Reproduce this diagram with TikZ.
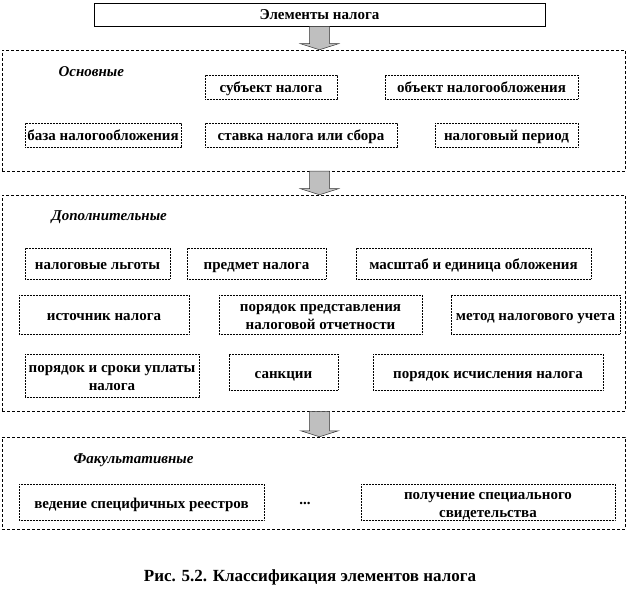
\documentclass[tikz,border=0pt]{standalone}
\usepackage{fontspec}
\setmainfont{Liberation Serif}
\usepackage{tikz}
\usetikzlibrary{positioning}

% толстая серая стрелка от точки #1 к острию #2
\newcommand{\fatarrow}[2]{%
  \filldraw[fill=black!25, draw=black!80, line width=0.5pt]
    ([xshift=-10pt]#1) -- ([xshift=-10pt,yshift=6pt]#2)
    -- ([xshift=-19pt,yshift=6pt]#2) -- (#2)
    -- ([xshift=19pt,yshift=6pt]#2) -- ([xshift=10pt,yshift=6pt]#2)
    -- ([xshift=10pt]#1) -- cycle;}

\begin{document}
\begin{tikzpicture}[
		x=1pt, y=-1pt,
		font=\fontsize{15}{18}\selectfont\bfseries,
		head/.style={
			draw,
			line width=0.6pt,
			minimum width=451pt,
			minimum height=23pt,
			text height=10pt,
			text depth=0pt,
			inner sep=0pt
		},
		frame/.style={
			draw,
			line width=0.5pt,
			dash pattern=on 3pt off 2pt,
			minimum width=623pt,
			inner sep=0pt
		},
		box/.style={
			draw,
			line width=0.7pt,
			dash pattern=on 0.8pt off 0.7pt,
			fill=white,
			align=center,
			minimum height=24pt,
			text height=12pt,
			text depth=0pt,
			inner sep=0pt
		},
		twoline/.style={
			text height=30pt
		},
		group/.style={
			anchor=west,
			font=\fontsize{15}{18}\selectfont\bfseries\itshape
		}
		]
		
		\useasboundingbox (0,0) rectangle (626,593);
		
		% Заголовок
		\node[head] (elem) at (319.5,14.5) {Элементы налога};
		
		% Рамки групп
		\node[frame, minimum height=121pt] (osn) at (313.5,110.5) {};
		\node[frame, minimum height=216pt] (dop) at (313.5,303) {};
		\node[frame, minimum height=92pt] (fak) at (313.5,483) {};
		
		% Стрелки
		\coordinate (s1) at (elem.south);
		\coordinate (t1) at (elem.south |- osn.north);
		\coordinate (s2) at (elem.south |- osn.south);
		\coordinate (t2) at (elem.south |- dop.north);
		\coordinate (s3) at (elem.south |- dop.south);
		\coordinate (t3) at (elem.south |- fak.north);
		\fatarrow{s1}{t1}
		\fatarrow{s2}{t2}
		\fatarrow{s3}{t3}
		
		% Основные
		\node[group] (osnt) at (55,72) {Основные};
		\node[box, minimum width=132pt] (subj) at (271,87) {субъект налога};
		\node[box, minimum width=193pt] (obj) at (481.5,87) {объект налогообложения};
		\node[box, minimum width=156pt] (baza) at (103,135) {база налогообложения};
		\node[box, minimum width=192pt] (stavka) at (301,135) {ставка налога или сбора};
		\node[box, minimum width=143pt] (period) at (506.5,135) {налоговый период};
		
		% Дополнительные
		\node[group] (dopt) at (48,217) {Дополнительные};
		\node[box, minimum width=145pt, minimum height=31pt] (lgoty) at (97.5,263.5) {налоговые льготы};
		\node[box, minimum width=139pt, minimum height=31pt] (predmet) at (256.5,263.5) {предмет налога};
		\node[box, minimum width=235pt, minimum height=31pt] (masht) at (473.5,263.5) {масштаб  и единица обложения};
		\node[box, minimum width=170pt, minimum height=39pt] (istoch) at (104,314.5) {источник налога};
		\node[box, twoline, minimum width=203pt, minimum height=39pt] (otchet) at (320.5,314.5) {порядок представления\\налоговой отчетности};
		\node[box, minimum width=169pt, minimum height=39pt] (metod) at (535.5,314.5) {метод налогового учета};
		\node[box, twoline, minimum width=174pt, minimum height=43pt] (uplata) at (112,375.5) {порядок и сроки уплаты\\налога};
		\node[box, minimum width=109pt, minimum height=36pt] (sankc) at (283.5,372) {санкции};
		\node[box, minimum width=230pt, minimum height=36pt] (ischisl) at (488,372) {порядок исчисления налога};
		
		% Факультативные
		\node[group] (fakt) at (70,460) {Факультативные};
		\node[box, minimum width=245pt, minimum height=36pt] (reestr) at (141.5,502) {ведение специфичных реестров};
		\node (dots) at (305,503) {...};
		\node[box, twoline, minimum width=254pt, minimum height=36pt] (svid) at (488,502) {получение специального\\свидетельства};
		
		% Подпись
		\node[font=\fontsize{17}{20}\selectfont\bfseries] (cap) at (310,577) {Рис. 5.2. Классификация элементов налога};
		
	\end{tikzpicture}
\end{document}
